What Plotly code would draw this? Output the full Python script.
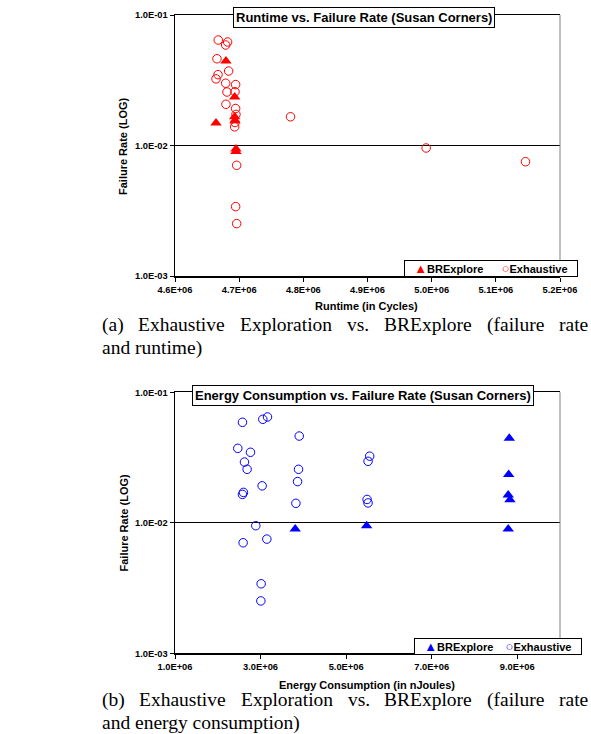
import plotly.graph_objects as go

W, H = 591, 734

# ---------------- data: (a) runtime vs failure rate ----------------
rt_bre_x = [4.6794e6, 4.6930e6, 4.6639e6, 4.6930e6, 4.6935e6, 4.6950e6, 4.6950e6]
rt_bre_y = [0.0445, 0.0235, 0.0149, 0.0166, 0.0155, 0.0094, 0.0090]

rt_exh_x = [4.6674e6, 4.6820e6, 4.6790e6, 4.6654e6, 4.6836e6, 4.6670e6, 4.6639e6,
            4.6790e6, 4.6945e6, 4.6810e6, 4.6935e6, 4.6794e6, 4.6945e6, 4.6950e6,
            4.6935e6, 4.6930e6, 4.7800e6, 4.9914e6, 5.1462e6, 4.6961e6, 4.6945e6,
            4.6961e6]
rt_exh_y = [0.0643, 0.0621, 0.0589, 0.0462, 0.0372, 0.0349, 0.0324,
            0.0300, 0.0293, 0.0257, 0.0258, 0.0207, 0.0192, 0.0173,
            0.0150, 0.0139, 0.0166, 0.00957, 0.00751, 0.00705, 0.0034,
            0.00252]

# ---------------- data: (b) energy vs failure rate ----------------
en_bre_x = [8.815e6, 8.800e6, 8.790e6, 8.830e6, 8.790e6, 3.810e6, 5.480e6]
en_bre_y = [0.0445, 0.0235, 0.0163, 0.0150, 0.00895, 0.00895, 0.0095]

en_exh_x = [2.577e6, 3.053e6, 3.162e6, 3.904e6, 2.468e6, 2.764e6, 2.624e6, 2.686e6,
            3.888e6, 3.037e6, 3.865e6, 2.600e6, 2.577e6, 3.826e6, 5.551e6, 5.513e6,
            5.490e6, 5.513e6, 2.889e6, 2.593e6, 3.147e6, 3.014e6, 3.007e6]
en_exh_y = [0.0589, 0.0621, 0.0647, 0.0462, 0.0372, 0.0347, 0.0292, 0.0257,
            0.0257, 0.0192, 0.0207, 0.0171, 0.0165, 0.0141, 0.0324, 0.0296,
            0.0151, 0.0142, 0.0095, 0.00703, 0.0075, 0.00341, 0.00252]

# ---------------- tick labels ----------------
y_tickvals = [0.001, 0.01, 0.1]
y_ticktext = ["1.0E-03", "1.0E-02", "1.0E-01"]
rt_tickvals = [4.6e6, 4.7e6, 4.8e6, 4.9e6, 5.0e6, 5.1e6, 5.2e6]
rt_ticktext = ["4.6E+06", "4.7E+06", "4.8E+06", "4.9E+06", "5.0E+06", "5.1E+06", "5.2E+06"]
en_tickvals = [1e6, 3e6, 5e6, 7e6, 9e6]
en_ticktext = ["1.0E+06", "3.0E+06", "5.0E+06", "7.0E+06", "9.0E+06"]

SANS = "Arial, Liberation Sans, sans-serif"
SERIF = "Times New Roman, Liberation Serif, serif"


def px(x):
    return x / W


def py(y):
    return 1 - y / H


fig = go.Figure()

RED, BLUE = "#FF0000", "#0000FF"

fig.add_trace(go.Scatter(x=rt_bre_x, y=rt_bre_y, mode="markers", name="BRExplore",
                         marker=dict(symbol="triangle-up", size=10, color=RED, line=dict(width=0)),
                         xaxis="x", yaxis="y"))
fig.add_trace(go.Scatter(x=rt_exh_x, y=rt_exh_y, mode="markers", name="Exhaustive",
                         marker=dict(symbol="circle-open", size=8.5, color=RED, line=dict(width=1, color=RED)),
                         xaxis="x", yaxis="y"))
fig.add_trace(go.Scatter(x=en_bre_x, y=en_bre_y, mode="markers", name="BRExplore",
                         marker=dict(symbol="triangle-up", size=10, color=BLUE, line=dict(width=0)),
                         xaxis="x2", yaxis="y2"))
fig.add_trace(go.Scatter(x=en_exh_x, y=en_exh_y, mode="markers", name="Exhaustive",
                         marker=dict(symbol="circle-open", size=8.5, color=BLUE, line=dict(width=1, color=BLUE)),
                         xaxis="x2", yaxis="y2"))

tickfont = dict(family=SANS, size=9.3, color="black", weight="bold")
common_x = dict(showline=True, linecolor="black", linewidth=1.5, mirror=True,
                ticks="outside", ticklen=4, tickcolor="black", tickwidth=1,
                showgrid=False, zeroline=False, tickfont=tickfont, tickmode="array",
                automargin=False)
common_y = dict(type="log", range=[-3, -1], showline=True, linecolor="black", linewidth=1.5,
                ticks="outside", ticklen=4, tickcolor="black", tickwidth=1,
                showgrid=True, gridcolor="black", gridwidth=1, zeroline=False,
                tickfont=tickfont, tickmode="array", tickvals=y_tickvals, ticktext=y_ticktext,
                automargin=False)

xd = [px(175), px(560)]
fig.update_layout(
    width=W, height=H, margin=dict(l=0, r=0, t=0, b=0, pad=0, autoexpand=False),
    paper_bgcolor="white", plot_bgcolor="white",
    xaxis=dict(domain=xd, range=[4.6e6, 5.2e6], tickvals=rt_tickvals, ticktext=rt_ticktext,
               anchor="y", **common_x),
    yaxis=dict(domain=[py(276), py(15)], anchor="x", **common_y),
    xaxis2=dict(domain=xd, range=[1e6, 1e7], tickvals=en_tickvals, ticktext=en_ticktext,
                anchor="y2", **common_x),
    yaxis2=dict(domain=[py(653.3), py(392.3)], anchor="x2", **common_y),
    showlegend=False, hovermode=False,
)

# right plot borders (grey)
for yr, xr in [("y", "x"), ("y2", "x2")]:
    fig.add_shape(type="line", xref=f"{xr} domain", yref=f"{yr} domain",
                  x0=1, x1=1, y0=0, y1=1, line=dict(color="#808080", width=1))

ann = []
# chart titles
ann.append(dict(text="<b>Runtime vs. Failure Rate (Susan Corners)</b>", x=px(363.5), y=py(17.5),
                xref="paper", yref="paper", showarrow=False, xanchor="center", yanchor="middle",
                font=dict(family=SANS, size=13, color="black"), bgcolor="white",
                bordercolor="black", borderwidth=1, borderpad=2))
ann.append(dict(text="<b>Energy Consumption vs. Failure Rate (Susan Corners)</b>", x=px(363), y=py(395.5),
                xref="paper", yref="paper", showarrow=False, xanchor="center", yanchor="middle",
                font=dict(family=SANS, size=13, color="black"), bgcolor="white",
                bordercolor="black", borderwidth=1, borderpad=2))

# legends (boxed, symbol glyphs coloured like the series)
SP = "&nbsp;"
for col, cx, cy, ngap in [(RED, 491, 268, 6), (BLUE, 497.5, 646, 4)]:
    sym = f"<span style='color:{col};font-size:13px'>"
    ann.append(dict(text=(f"{SP*3}{sym}▲</span><b>BRExplore</b>"
                          f"{SP*ngap}{sym}○</span><b>Exhaustive</b>{SP*3}"),
                    x=px(cx), y=py(cy), xref="paper", yref="paper", showarrow=False,
                    xanchor="center", yanchor="middle",
                    font=dict(family=SANS, size=11, color="black"), bgcolor="white",
                    bordercolor="black", borderwidth=1, borderpad=0))

# axis titles
for txt, xx, yy, ang in [("Failure Rate (LOG)", 123, 146, -90),
                         ("Failure Rate (LOG)", 123, 522.5, -90),
                         ("Runtime (in Cycles)", 366, 306, 0),
                         ("Energy Consumption (in nJoules)", 366.5, 685, 0)]:
    ann.append(dict(text=f"<b>{txt}</b>", x=px(xx), y=py(yy), xref="paper", yref="paper",
                    showarrow=False, xanchor="center", yanchor="middle", textangle=ang,
                    font=dict(family=SANS, size=11, color="black")))

# captions (first line justified between x=102 and x=588)
CW = {" ": 250, "(": 333, ")": 333, ".": 250, "a": 444, "b": 500, "c": 444, "d": 500,
      "e": 444, "f": 333, "g": 500, "h": 500, "i": 278, "l": 278, "m": 778, "n": 500,
      "o": 500, "p": 500, "r": 333, "s": 389, "t": 278, "u": 500, "v": 500, "x": 500,
      "y": 500, "B": 667, "E": 611, "R": 667}
FS = 19.5
L0, L1 = 102, 588


def tw(s):
    return sum(CW.get(c, 500) for c in s) * FS / 1000


def caption(line1, line2, y1, y2):
    words = line1.split(" ")
    widths = [tw(w) for w in words]
    gap = (L1 - L0 - sum(widths)) / (len(words) - 1)
    xcur = L0
    for w, wd in zip(words, widths):
        ann.append(dict(text=w, x=px(xcur + wd / 2), y=py(y1), xref="paper", yref="paper",
                        showarrow=False, xanchor="center", yanchor="middle",
                        font=dict(family=SERIF, size=FS, color="black")))
        xcur += wd + gap
    ann.append(dict(text=line2, x=px(L0 + tw(line2) / 2), y=py(y2), xref="paper", yref="paper",
                    showarrow=False, xanchor="center", yanchor="middle",
                    font=dict(family=SERIF, size=FS, color="black")))


caption("(a) Exhaustive Exploration vs. BRExplore (failure rate", "and runtime)", 325, 348)
caption("(b) Exhaustive Exploration vs. BRExplore (failure rate", "and energy consumption)", 699.5, 722.5)

fig.update_layout(annotations=ann)

fig.write_html("out.html",
               config={"displayModeBar": False, "staticPlot": True},
               post_script="document.body.style.margin='0px';document.body.style.overflow='hidden';")
